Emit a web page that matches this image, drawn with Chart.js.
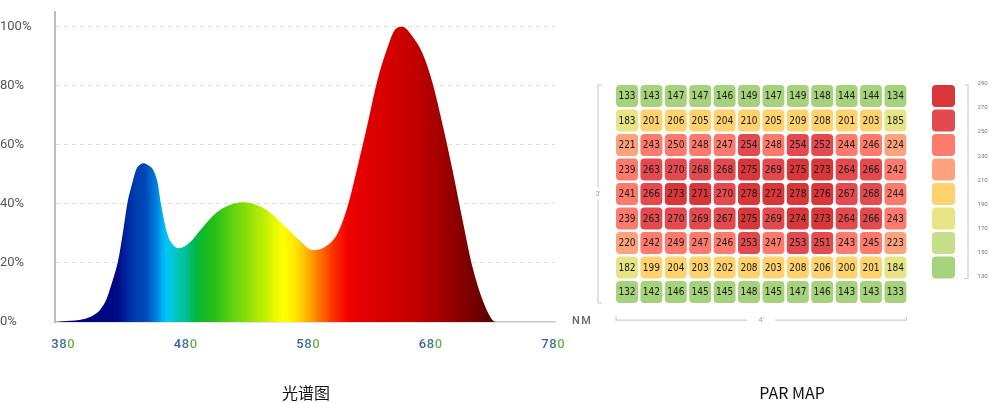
<!DOCTYPE html>
<html><head><meta charset="utf-8">
<script src="https://cdn.jsdelivr.net/npm/chart.js@4.4.0/dist/chart.umd.min.js"></script>
<style>
html,body{margin:0;padding:0;background:#fff;width:1000px;height:403px;overflow:hidden;}
#left{position:absolute;left:0;top:0;width:612px;height:403px;}
#right{position:absolute;left:584px;top:0;width:416px;height:403px;}
</style></head><body>
<div id="left"><canvas id="c1"></canvas></div>
<div id="right"><canvas id="c2"></canvas></div>
<script>
// ---------- DATA ----------
const wavelengthsNm = [380, 389, 403, 411, 416, 421, 425, 430.6, 434.2, 437.8, 441.8, 444.8, 448, 451, 455, 458.6, 462.2, 464.8, 469.8, 474, 479, 488, 496, 509, 522, 532, 549, 565, 576, 586, 594, 606, 614, 622, 630, 638, 646, 652, 658, 666, 674, 682, 690, 698, 706, 714, 722, 730, 734, 780];
const relativeIntensity = [0, 0.3, 1.0, 2.4, 4.1, 7.5, 12.5, 21, 30, 40, 47, 51.5, 53.3, 53.8, 53, 51.5, 47, 40, 30, 26.3, 25, 27, 31, 37, 40, 40.6, 38, 32, 27.5, 24.4, 25, 30, 39, 52.5, 67, 82, 93, 99, 100, 96.7, 91, 81, 67, 51.5, 34.6, 18.6, 7.5, 0.7, 0, 0];
const yTickValues = [0, 20, 40, 60, 80, 100];
const xTickValues = [380, 480, 580, 680, 780];

const parRow1 = [133, 143, 147, 147, 146, 149, 147, 149, 148, 144, 144, 134];
const parRow2 = [183, 201, 206, 205, 204, 210, 205, 209, 208, 201, 203, 185];
const parRow3 = [221, 243, 250, 248, 247, 254, 248, 254, 252, 244, 246, 224];
const parRow4 = [239, 263, 270, 268, 268, 275, 269, 275, 273, 264, 266, 242];
const parRow5 = [241, 266, 273, 271, 270, 278, 272, 278, 276, 267, 268, 244];
const parRow6 = [239, 263, 270, 269, 267, 275, 269, 274, 273, 264, 266, 243];
const parRow7 = [220, 242, 249, 247, 246, 253, 247, 253, 251, 243, 245, 223];
const parRow8 = [182, 199, 204, 203, 202, 208, 203, 208, 206, 200, 201, 184];
const parRow9 = [132, 142, 146, 145, 145, 148, 145, 147, 146, 143, 143, 133];
const parRows = [parRow1, parRow2, parRow3, parRow4, parRow5, parRow6, parRow7, parRow8, parRow9];
const columnLabels = ['1','2','3','4','5','6','7','8','9','10','11','12'];
const legendBreaks = [290, 270, 250, 230, 210, 190, 170, 150, 130];

// ---------- STYLES ----------
const legendColors = ['#d9363a', '#e34a4f', '#fd7a6d', '#fca37d', '#fed36f', '#e6e484', '#c5de87', '#a6d27c'];
const spectrumStops = [
  [380,'#00006e'],[430,'#000a85'],[437,'#0024a0'],[445,'#0040b0'],[452,'#0048b8'],[456,'#0060c8'],
  [461,'#0080e0'],[465,'#00a8f0'],[469,'#00c6f6'],[475,'#00c8d0'],[480,'#00c4a8'],[485,'#00c090'],
  [491,'#00b850'],[498,'#10b828'],[508,'#28c018'],[520,'#58d010'],[535,'#90e008'],[548,'#c0f000'],
  [556,'#e8f800'],[562,'#ffff00'],[572,'#ffe800'],[578,'#ffc800'],[585,'#ffa000'],[592,'#ff7000'],
  [600,'#ff4000'],[608,'#f81800'],[615,'#f00000'],[630,'#e00000'],[650,'#d20000'],[670,'#c00000'],
  [690,'#a00000'],[705,'#860000'],[718,'#700000'],[730,'#580000'],[780,'#400000']
];
const labelDigitColors = ['#3b62a6', '#4a78a0', '#6ab54f'];

Chart.defaults.font.family = "Roboto, 'DejaVu Sans', sans-serif";

function colorFor(v) {
  for (let i = 0; i < legendColors.length; i++) {
    if (v > legendBreaks[i + 1]) return legendColors[i];
  }
  return legendColors[legendColors.length - 1];
}

const hiddenAxis = (pos, size, extra) => Object.assign({
  display: true, position: pos,
  grid: { display: false, drawTicks: false },
  border: { display: false },
  ticks: { display: false },
  afterFit: s => { if (pos === 'top' || pos === 'bottom') s.height = size; else s.width = size; }
}, extra || {});

// ---------- LEFT: spectrum ----------
const spectrumDecor = {
  id: 'spectrumDecor',
  afterDraw(chart) {
    const ctx = chart.ctx, xs = chart.scales.x, a = chart.chartArea;
    ctx.save();
    ctx.font = "500 13px Roboto, sans-serif";
    ctx.textBaseline = 'middle';
    ctx.textAlign = 'left';
    xTickValues.forEach(v => {
      const px = xs.getPixelForValue(v);
      const cx = 0.98 * px + 9.1;
      const chars = String(v).split('');
      const sp = 0.6;
      const widths = chars.map(c => ctx.measureText(c).width);
      const total = widths.reduce((s, w) => s + w, 0) + sp * (chars.length - 1);
      let x = cx - total / 2;
      chars.forEach((c, i) => {
        ctx.fillStyle = labelDigitColors[Math.min(i, labelDigitColors.length - 1)];
        ctx.fillText(c, x, a.bottom + 23);
        x += widths[i] + sp;
      });
    });
    ctx.font = "500 11px Roboto, sans-serif";
    ctx.fillStyle = '#666';
    ctx.fillText('N', a.right + 17, a.bottom - 1);
    ctx.fillText('M', a.right + 17 + ctx.measureText('N').width + 1.5, a.bottom - 1);
    ctx.restore();
  }
};

new Chart(document.getElementById('c1'), {
  type: 'line',
  data: {
    datasets: [{
      data: wavelengthsNm.map((x, i) => ({ x: x, y: relativeIntensity[i] })),
      fill: 'origin',
      borderWidth: 0,
      borderColor: 'rgba(0,0,0,0)',
      pointRadius: 0,
      cubicInterpolationMode: 'monotone',
      backgroundColor: (c) => {
        const ch = c.chart;
        if (!ch.chartArea) return 'rgba(0,0,0,0)';
        const xs = ch.scales.x;
        const x0 = xs.getPixelForValue(380), x1 = xs.getPixelForValue(780);
        const g = ch.ctx.createLinearGradient(x0, 0, x1, 0);
        spectrumStops.forEach(([nm, col]) => g.addColorStop((nm - 380) / 400, col));
        return g;
      }
    }]
  },
  options: {
    responsive: true, maintainAspectRatio: false, animation: false, events: [],
    layout: { padding: { top: 12, left: 0, right: 0, bottom: 0 } },
    plugins: {
      legend: { display: false }, tooltip: { enabled: false },
      title: { display: true, text: '光谱图', position: 'bottom', color: '#111',
        font: { family: "'Noto Sans CJK SC', sans-serif", size: 16, weight: 'normal' }, padding: 0 }
    },
    scales: {
      x: {
        type: 'linear', min: 380, max: 780,
        grid: { display: false, drawTicks: false },
        border: { display: true, color: '#c8c8c8', width: 1.5 },
        ticks: { display: false },
        afterFit: s => { s.height = 61.8; }
      },
      y: {
        min: 0, max: 105,
        afterBuildTicks: s => { s.ticks = yTickValues.map(v => ({ value: v })); },
        ticks: { crossAlign: 'far', color: '#555', font: { size: 13 }, padding: 0, callback: v => v + '%' },
        grid: { color: c => (c.tick && c.tick.value === 0) ? 'rgba(0,0,0,0)' : '#dedede', lineWidth: 1, drawTicks: false },
        border: { display: true, color: '#bdbdbd', width: 2, dash: [4, 4] },
        afterFit: s => { s.width = 55; }
      },
      yPad: hiddenAxis('right', 57, { type: 'linear' })
    }
  },
  plugins: [spectrumDecor]
});

// ---------- RIGHT: PAR map ----------
const parDecor = {
  id: 'parDecor',
  afterDatasetsDraw(chart) {
    const ctx = chart.ctx;
    ctx.save();
    ctx.font = "10px 'Liberation Sans Narrow', 'DejaVu Sans Condensed', sans-serif";
    ctx.fillStyle = '#1a1a1a';
    ctx.textAlign = 'center';
    ctx.textBaseline = 'middle';
    chart.data.datasets.forEach((ds, di) => {
      const meta = chart.getDatasetMeta(di);
      meta.data.forEach((el, i) => {
        ctx.fillText(String(ds.parValues[i]), el.x, (el.y + el.base) / 2 + 0.5);
      });
    });
    ctx.restore();
  },
  afterDraw(chart) {
    const ctx = chart.ctx, a = chart.chartArea, ys = chart.scales.y;
    const pitch = ys.getPixelForValue(0) - ys.getPixelForValue(1);
    const gap = pitch * 0.05;
    ctx.save();
    for (let i = 0; i < legendColors.length; i++) {
      const top = ys.getPixelForValue(9 - i) + gap;
      ctx.fillStyle = legendColors[i];
      ctx.beginPath();
      ctx.roundRect(a.right + 24.4, top, 23, pitch - 2 * gap, 4);
      ctx.fill();
    }
    ctx.strokeStyle = '#cfcfcf';
    ctx.lineWidth = 1.2;
    const lx = a.right + 60.4;
    const lTop = ys.getPixelForValue(9) + gap, lBot = ys.getPixelForValue(1) - gap;
    ctx.beginPath();
    ctx.moveTo(lx - 4, lTop); ctx.lineTo(lx, lTop); ctx.lineTo(lx, lBot); ctx.lineTo(lx - 4, lBot);
    ctx.stroke();
    ctx.fillStyle = '#777';
    ctx.font = "6px Roboto, sans-serif";
    ctx.textAlign = 'left';
    ctx.textBaseline = 'middle';
    legendBreaks.forEach((b, i) => {
      ctx.fillText(String(b), a.right + 70, ys.getPixelForValue(9 - i) - 0.4 * i);
    });
    const bx = a.left - 16.8;
    const gTop = ys.getPixelForValue(9) + gap, gBot = ys.getPixelForValue(0) - gap;
    const mid = (gTop + gBot) / 2;
    ctx.beginPath();
    ctx.moveTo(bx + 4, gTop); ctx.lineTo(bx, gTop); ctx.lineTo(bx, mid - 6);
    ctx.moveTo(bx, mid + 6); ctx.lineTo(bx, gBot); ctx.lineTo(bx + 4, gBot);
    ctx.stroke();
    ctx.fillStyle = '#999';
    ctx.font = "7px Roboto, sans-serif";
    ctx.textAlign = 'center';
    ctx.fillText("3'", bx, mid);
    const by = a.bottom + 16;
    const xL = a.left + 1.2, xR = a.right - 1.2, xm = (xL + xR) / 2;
    ctx.beginPath();
    ctx.moveTo(xL, by - 4); ctx.lineTo(xL, by); ctx.lineTo(xm - 14, by);
    ctx.moveTo(xm + 14, by); ctx.lineTo(xR, by); ctx.lineTo(xR, by - 4);
    ctx.stroke();
    ctx.fillText("4'", xm, by);
    ctx.restore();
  }
};

new Chart(document.getElementById('c2'), {
  type: 'bar',
  data: {
    labels: columnLabels,
    datasets: parRows.map((row, r) => ({
      label: 'Row ' + (r + 1),
      data: row.map(() => [8 - r + 0.05, 9 - r - 0.05]),
      parValues: row,
      backgroundColor: row.map(colorFor),
      borderRadius: 4,
      borderSkipped: false,
      borderWidth: 0,
      grouped: false,
      categoryPercentage: 1,
      barPercentage: 0.9
    }))
  },
  options: {
    responsive: true, maintainAspectRatio: false, animation: false, events: [],
    layout: { padding: { top: 83.8, left: 0, right: 0, bottom: 0 } },
    plugins: {
      legend: { display: false }, tooltip: { enabled: false },
      title: { display: true, text: 'PAR MAP', position: 'bottom', color: '#111',
        font: { family: "'Noto Sans CJK SC', sans-serif", size: 16, weight: 'normal' }, padding: 0 }
    },
    scales: {
      x: hiddenAxis('bottom', 79.6, { type: 'category', offset: true }),
      y: hiddenAxis('left', 30.8, { type: 'linear', min: 0, max: 9 }),
      yPad: hiddenAxis('right', 92.4, { type: 'linear' })
    }
  },
  plugins: [parDecor]
});
</script>
</body></html>
